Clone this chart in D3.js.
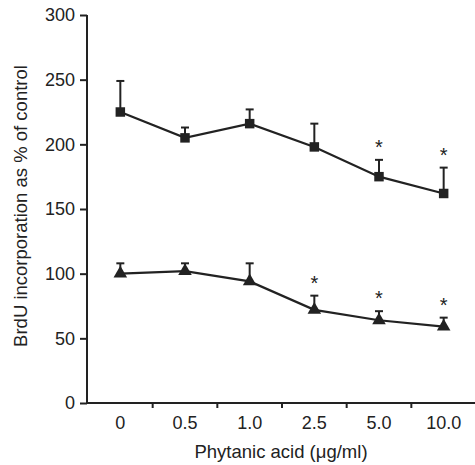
<!DOCTYPE html>
<html>
<head>
<meta charset="utf-8">
<script src="https://cdn.jsdelivr.net/npm/d3@7"></script>
<style>
  body { margin: 0; background: #fff; }
  text { font-family: "Liberation Sans", Arial, sans-serif; fill: #222; }
</style>
</head>
<body>
<svg id="drawing_region"></svg>
<script>
// doses on the x axis
const doses = ["0", "0.5", "1.0", "2.5", "5.0", "10.0"];
// square series (mean, upper error)
const squareMean = [225, 205, 216, 198, 175, 162];
const squareUpper = [249, 213, 227, 216, 188, 182];
const squareStar = [false, false, false, false, true, true];
// triangle series
const triMean = [100, 102, 94, 72, 64, 59];
const triUpper = [108, 108, 108, 83, 71, 66];
const triStar = [false, false, false, true, true, true];
const yTicks = [0, 50, 100, 150, 200, 250, 300];

const width = 475, height = 465;
const margin = {top: 15, right: 0, bottom: 62, left: 88};

const svg = d3.select('#drawing_region')
    .attr('width', width)
    .attr('height', height);

const xscale = d3.scaleBand()
    .domain(doses)
    .range([margin.left, width + 1]);

const yscale = d3.scaleLinear()
    .domain([0, 300])
    .range([height - margin.bottom, margin.top]);

const ink = '#222';

// y axis
const yaxis = svg.append('g')
    .attr('transform', `translate(${margin.left - 1},0)`)
    .call(d3.axisLeft(yscale).tickValues(yTicks).tickSize(7).tickPadding(5));
yaxis.select('.domain').attr('stroke', ink).attr('stroke-width', 2).attr('d', `M0,${yscale(300)}V${yscale(0)}`);
yaxis.selectAll('.tick line').attr('stroke', ink).attr('stroke-width', 2);
yaxis.selectAll('.tick text').attr('font-size', '18px').attr('fill', ink).attr('font-family', '"Liberation Sans", Arial, sans-serif');

// x axis: ticks between the categories
const xaxis = svg.append('g')
    .attr('transform', `translate(0,${yscale(0)})`);
xaxis.append('line')
    .attr('x1', margin.left - 2).attr('x2', width)
    .attr('stroke', ink).attr('stroke-width', 2);
xaxis.selectAll('line.sep')
    .data(doses.slice(1))
    .join('line')
    .attr('class', 'sep')
    .attr('x1', d => xscale(d)).attr('x2', d => xscale(d))
    .attr('y1', 0).attr('y2', 5)
    .attr('stroke', ink).attr('stroke-width', 2);
xaxis.selectAll('text')
    .data(doses)
    .join('text')
    .attr('x', d => xscale(d) + xscale.bandwidth() / 2)
    .attr('y', 26)
    .attr('text-anchor', 'middle')
    .attr('font-size', '18px')
    .text(d => d);

svg.append('text')
    .attr('x', 281)
    .attr('y', 458)
    .attr('text-anchor', 'middle')
    .attr('font-size', '18.5px')
    .text('Phytanic acid (\u03bcg/ml)');

svg.append('text')
    .attr('transform', `translate(27,206) rotate(-90)`)
    .attr('text-anchor', 'middle')
    .attr('font-size', '18.5px')
    .text('BrdU incorporation as % of control');

function drawSeries(mean, upper, star, symbolType, size, starGap) {
    const pts = doses.map((d, i) => ({
        x: xscale(d) + xscale.bandwidth() / 2,
        y: yscale(mean[i]),
        up: yscale(upper[i]),
        star: star[i]
    }));
    const g = svg.append('g');
    // error bars
    g.selectAll('line.err')
        .data(pts).join('line')
        .attr('x1', d => d.x).attr('x2', d => d.x)
        .attr('y1', d => d.y).attr('y2', d => d.up)
        .attr('stroke', ink).attr('stroke-width', 2);
    g.selectAll('line.cap')
        .data(pts).join('line')
        .attr('class', 'cap')
        .attr('x1', d => d.x - 4).attr('x2', d => d.x + 4)
        .attr('y1', d => d.up).attr('y2', d => d.up)
        .attr('stroke', ink).attr('stroke-width', 2);
    g.append('path')
        .datum(pts)
        .attr('fill', 'none')
        .attr('stroke', ink)
        .attr('stroke-width', 2.2)
        .attr('d', d3.line().x(d => d.x).y(d => d.y));
    g.selectAll('path.sym')
        .data(pts).join('path')
        .attr('class', 'sym')
        .attr('transform', d => `translate(${d.x},${d.y})`)
        .attr('fill', ink)
        .attr('d', d3.symbol().type(symbolType).size(size));
    g.selectAll('text.star')
        .data(pts.filter(d => d.star)).join('text')
        .attr('class', 'star')
        .attr('x', d => d.x)
        .attr('y', d => d.up - starGap)
        .attr('text-anchor', 'middle')
        .attr('font-size', '20px')
        .text('*');
}

drawSeries(squareMean, squareUpper, squareStar, d3.symbolSquare, 90, 6);
drawSeries(triMean, triUpper, triStar, d3.symbolTriangle, 80, 6);
</script>
</body>
</html>
